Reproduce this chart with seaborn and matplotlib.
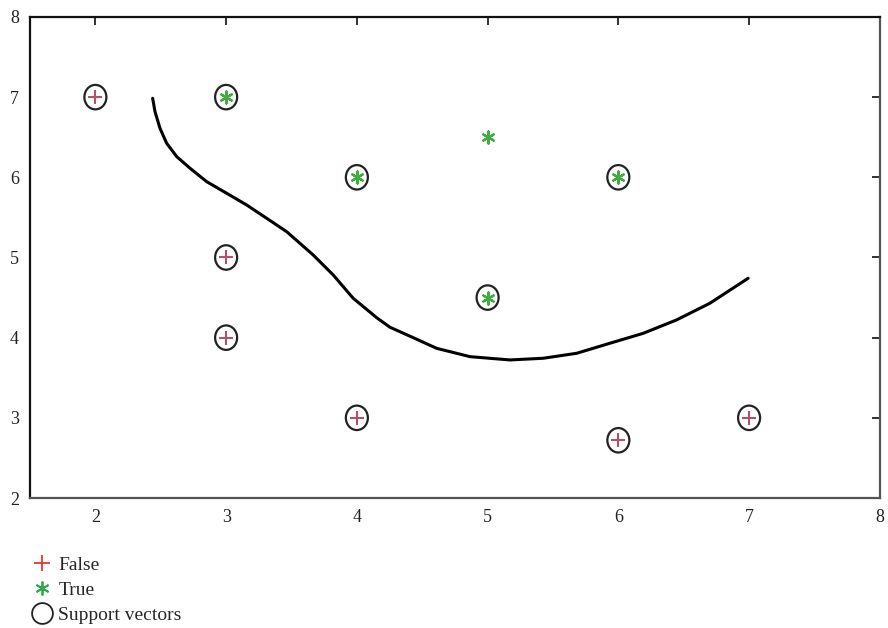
import matplotlib
matplotlib.use("Agg")
import matplotlib.pyplot as plt
import seaborn as sns
import pandas as pd
import numpy as np
from matplotlib.lines import Line2D
from matplotlib.path import Path

# Data
false_x = [2, 3, 3, 4, 6, 7]
false_y = [7, 5, 4, 3, 2.72, 3]
true_x = [3, 4, 5, 6, 5]
true_y = [7, 6, 6.5, 6, 4.5]
sv_x = [2, 3, 3, 3, 4, 4, 5, 6, 6, 7]
sv_y = [7, 7, 5, 4, 6, 3, 4.5, 6, 2.72, 3]
curve_x = [2.438, 2.456, 2.494, 2.545, 2.622, 2.724, 2.851, 3.004, 3.157, 3.310,
           3.463, 3.666, 3.819, 3.972, 4.151, 4.253, 4.431, 4.610, 4.865, 5.171,
           5.425, 5.681, 5.935, 6.190, 6.445, 6.700, 6.993]
curve_y = [6.986, 6.819, 6.612, 6.425, 6.258, 6.113, 5.946, 5.801, 5.655, 5.489,
           5.322, 5.031, 4.782, 4.491, 4.250, 4.130, 4.000, 3.867, 3.763, 3.722,
           3.743, 3.805, 3.930, 4.054, 4.221, 4.429, 4.741]
xticks = [2, 3, 4, 5, 6, 7, 8]
yticks = [2, 3, 4, 5, 6, 7, 8]

sns.set_style("white")
plt.rcParams['font.family'] = ['Liberation Serif', 'DejaVu Serif']

fig = plt.figure(figsize=(8.88, 6.28), dpi=100)
ax = fig.add_axes([0.0338, 0.207, 0.957, 0.766])

curve = pd.DataFrame({"x": curve_x, "y": curve_y})
sns.lineplot(data=curve, x="x", y="y", ax=ax, color="black", lw=2.2, sort=False,
             estimator=None)
ax.lines[-1].set_solid_joinstyle("round")
ax.lines[-1].set_solid_capstyle("round")

# elliptical marker (slightly taller than wide)
circ = Path.unit_circle()
ellipse = Path(circ.vertices * np.array([0.9, 1.0]), circ.codes)

sv = pd.DataFrame({"x": sv_x, "y": sv_y})
sns.scatterplot(data=sv, x="x", y="y", ax=ax, marker=ellipse, s=310,
                facecolor="none", edgecolor="#222222", linewidth=1.6, zorder=3)

fd = pd.DataFrame({"x": false_x, "y": false_y})
sns.scatterplot(data=fd, x="x", y="y", ax=ax, marker="+", s=95,
                color="#b4506a", linewidth=1.5, zorder=4)

td = pd.DataFrame({"x": true_x, "y": true_y})
sns.scatterplot(data=td, x="x", y="y", ax=ax, marker=(6, 2, 0), s=75,
                color="#3fae3f", linewidth=1.6, zorder=4)

ax.set_xlim(1.5, 8)
ax.set_ylim(2, 8)
ax.set_xticks(xticks)
ax.set_yticks(yticks)
ax.set_xlabel("")
ax.set_ylabel("")
ax.tick_params(direction="in", length=6, width=1.3, top=True, right=True,
               labelsize=13, colors="#222222", pad=8)
for s in ax.spines.values():
    s.set_visible(True)
    s.set_color("#111111")
    s.set_linewidth(1.6)
ax.spines["bottom"].set_color("#555555")
ax.spines["right"].set_color("#555555")

handles = [
    Line2D([], [], marker="+", ls="none", color="#e8352e", markersize=11, mew=1.3),
    Line2D([], [], marker=(6, 2, 0), ls="none", color="#2ea84a", markersize=10, mew=1.3),
    Line2D([], [], marker="o", ls="none", mfc="none", mec="#222222", markersize=15, mew=1.3),
]
fig.legend(handles, ["False", "True", "Support vectors"], loc="upper left",
           bbox_to_anchor=(0.022, 0.130), frameon=False, fontsize=14,
           handletextpad=0.2, labelspacing=0.38, handlelength=1.3,
           borderpad=0.0)

fig.savefig("out.png", dpi=100)
